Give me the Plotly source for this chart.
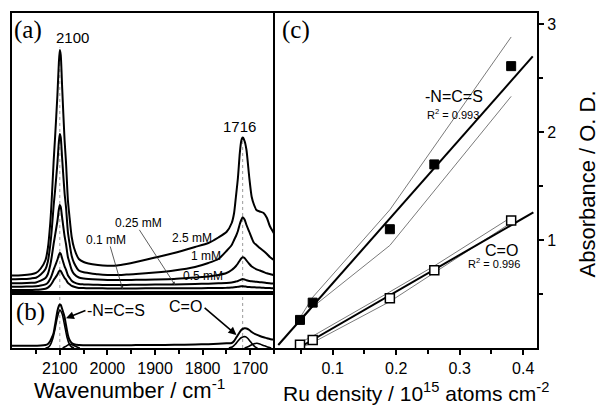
import plotly.graph_objects as go

# ---------------- data: panel (a) / (b) spectra ----------------
wavenumber = [2201, 2180, 2160, 2150, 2140, 2130, 2125, 2120, 2117, 2113, 2110, 2105, 2102, 2100,
              2098, 2095, 2090, 2087, 2083, 2080, 2075, 2070, 2060, 2050, 2040, 2020, 2000, 1980,
              1960, 1940, 1900, 1860, 1816, 1788, 1767, 1750, 1739, 1734, 1730, 1726, 1722, 1719,
              1716, 1712, 1708, 1702, 1697, 1692, 1687, 1680, 1672, 1665, 1659, 1652, 1646]

abs_2p5mM = [0.175, 0.178, 0.188, 0.20, 0.245, 0.33, 0.45, 0.70, 0.93, 1.31, 1.55, 1.98, 2.30, 2.43,
             2.38, 2.05, 1.53, 1.31, 0.93, 0.78, 0.56, 0.45, 0.34, 0.31, 0.295, 0.28, 0.273, 0.275,
             0.29, 0.31, 0.355, 0.40, 0.46, 0.50, 0.555, 0.61, 0.70, 0.80, 0.97, 1.15, 1.40, 1.52,
             1.557, 1.52, 1.43, 1.15, 0.96, 0.88, 0.83, 0.815, 0.80, 0.75, 0.67, 0.61, 0.56]
abs_1mM = [0.137, 0.139, 0.146, 0.153, 0.185, 0.24, 0.315, 0.48, 0.625, 0.87, 1.02, 1.30, 1.51, 1.59,
           1.555, 1.34, 1.00, 0.86, 0.61, 0.51, 0.37, 0.30, 0.225, 0.207, 0.20, 0.187, 0.18, 0.18,
           0.185, 0.19, 0.205, 0.225, 0.26, 0.30, 0.34, 0.42, 0.48, 0.53, 0.57, 0.62, 0.69, 0.73,
           0.757, 0.735, 0.68, 0.61, 0.55, 0.50, 0.48, 0.45, 0.42, 0.39, 0.36, 0.335, 0.315]
abs_0p5mM = [0.097, 0.098, 0.102, 0.106, 0.123, 0.15, 0.19, 0.28, 0.36, 0.49, 0.575, 0.72, 0.835, 0.88,
             0.86, 0.75, 0.57, 0.49, 0.36, 0.31, 0.23, 0.19, 0.155, 0.145, 0.14, 0.134, 0.13, 0.13,
             0.13, 0.132, 0.135, 0.14, 0.155, 0.165, 0.18, 0.20, 0.23, 0.25, 0.27, 0.295, 0.325, 0.345,
             0.357, 0.35, 0.325, 0.29, 0.265, 0.25, 0.237, 0.225, 0.21, 0.197, 0.19, 0.18, 0.173]
abs_0p25mM = [0.063, 0.063, 0.065, 0.067, 0.074, 0.086, 0.104, 0.142, 0.176, 0.233, 0.27, 0.333, 0.38, 0.40,
              0.392, 0.344, 0.267, 0.234, 0.178, 0.156, 0.123, 0.107, 0.09, 0.086, 0.084, 0.082, 0.08, 0.08,
              0.081, 0.082, 0.084, 0.086, 0.09, 0.093, 0.097, 0.10, 0.105, 0.11, 0.115, 0.12, 0.128, 0.135,
              0.14, 0.135, 0.128, 0.12, 0.118, 0.115, 0.112, 0.108, 0.105, 0.10, 0.097, 0.094, 0.09]
abs_0p1mM = [0.03, 0.03, 0.031, 0.032, 0.036, 0.043, 0.054, 0.075, 0.095, 0.128, 0.149, 0.186, 0.214, 0.225,
             0.22, 0.193, 0.15, 0.132, 0.101, 0.09, 0.071, 0.062, 0.051, 0.049, 0.048, 0.047, 0.046, 0.046,
             0.046, 0.046, 0.047, 0.047, 0.048, 0.049, 0.05, 0.052, 0.055, 0.057, 0.059, 0.062, 0.065, 0.067,
             0.068, 0.066, 0.063, 0.06, 0.058, 0.057, 0.056, 0.054, 0.052, 0.05, 0.049, 0.048, 0.047]

spectra_a = [abs_0p1mM, abs_0p25mM, abs_0p5mM, abs_1mM, abs_2p5mM]
conc_labels = ["0.1 mM", "0.25 mM", "0.5 mM", "1 mM", "2.5 mM"]

# panel (b): fitted total and components
fit_total = [0.022, 0.022, 0.022, 0.023, 0.024, 0.03, 0.04, 0.07, 0.10, 0.15, 0.23, 0.37, 0.42, 0.435,
             0.43, 0.39, 0.31, 0.23, 0.13, 0.085, 0.05, 0.038, 0.03, 0.028, 0.027, 0.027, 0.027, 0.028,
             0.028, 0.029, 0.03, 0.032, 0.035, 0.038, 0.042, 0.047, 0.05, 0.07, 0.10, 0.13, 0.16, 0.18,
             0.19, 0.197, 0.195, 0.18, 0.16, 0.145, 0.133, 0.12, 0.107, 0.098, 0.09, 0.084, 0.078]
ncs_comp_wn = [2130, 2125, 2120, 2115, 2110, 2105, 2100, 2095, 2090, 2085, 2080, 2075, 2070]
ncs_comp = [0.0, 0.005, 0.03, 0.09, 0.19, 0.31, 0.38, 0.34, 0.23, 0.11, 0.04, 0.01, 0.0]
minor_comp_wn = [2094, 2088, 2082, 2078, 2072, 2065, 2058]
minor_comp = [0.0, 0.015, 0.033, 0.037, 0.028, 0.012, 0.0]
co_comp_wn = [1745, 1738, 1732, 1726, 1720, 1714, 1710, 1705, 1700, 1695, 1690, 1685]
co_comp = [0.0, 0.01, 0.035, 0.07, 0.10, 0.113, 0.112, 0.095, 0.065, 0.035, 0.012, 0.0]
co_comp2_wn = [1712, 1705, 1698, 1692, 1686, 1680, 1672, 1664, 1656]
co_comp2 = [0.0, 0.012, 0.03, 0.043, 0.047, 0.04, 0.025, 0.01, 0.0]

peak_positions = [2100, 1716]
peak_labels = ["2100", "1716"]

# ---------------- data: panel (c) ----------------
ru_density = [0.0485, 0.0685, 0.19, 0.26, 0.381]
ncs_abs = [0.26, 0.42, 1.10, 1.70, 2.61]
co_abs = [0.03, 0.074, 0.46, 0.72, 1.18]

ncs_fit_x = [0.0143, 0.415]
ncs_fit_y = [0.028, 2.70]
co_fit_x = [0.046, 0.416]
co_fit_y = [0.0, 1.256]

ncs_band_x = [0.0485, 0.0685, 0.19, 0.381]
ncs_upper = [0.28, 0.47, 1.28, 2.88]
ncs_lower = [0.24, 0.38, 0.95, 2.33]
co_band_x = [0.0485, 0.0685, 0.19, 0.26, 0.381]
co_upper = [0.05, 0.11, 0.52, 0.76, 1.21]
co_lower = [0.0, 0.05, 0.43, 0.70, 1.16]

x_ticks_left = [2100, 2000, 1900, 1800, 1700]
x_minor_left = [2150, 2050, 1950, 1850, 1750, 1650]
x_ticks_c = [0.1, 0.2, 0.3, 0.4]
x_minor_c = [0.05, 0.15, 0.25, 0.35]
y_ticks_c = [1, 2, 3]
y_minor_c = [0.5, 1.5, 2.5]

# ---------------- figure ----------------
SANS = "Liberation Sans, Arial, sans-serif"
SERIF = "Liberation Serif, Times New Roman, serif"
fig = go.Figure()

line_k = dict(color="black", width=2, shape="spline", smoothing=0.6)
for vals, lab in zip(spectra_a, conc_labels):
    fig.add_trace(go.Scatter(x=wavenumber, y=vals, mode="lines", line=line_k,
                             xaxis="x2", yaxis="y2", name=lab, showlegend=False))

fig.add_trace(go.Scatter(x=wavenumber, y=fit_total, mode="lines", line=line_k,
                         xaxis="x", yaxis="y", showlegend=False))
for wn, vals in [(ncs_comp_wn, ncs_comp), (minor_comp_wn, minor_comp),
                 (co_comp_wn, co_comp), (co_comp2_wn, co_comp2)]:
    fig.add_trace(go.Scatter(x=wn, y=vals, mode="lines",
                             line=dict(color="black", width=1.6, shape="spline", smoothing=0.6),
                             xaxis="x", yaxis="y", showlegend=False))

# panel (c)
band = dict(color="#7a7a7a", width=1)
for bx, by in [(ncs_band_x, ncs_upper), (ncs_band_x, ncs_lower),
               (co_band_x, co_upper), (co_band_x, co_lower)]:
    fig.add_trace(go.Scatter(x=bx, y=by, mode="lines", line=band,
                             xaxis="x3", yaxis="y3", showlegend=False))
fig.add_trace(go.Scatter(x=ncs_fit_x, y=ncs_fit_y, mode="lines", line=dict(color="black", width=2),
                         xaxis="x3", yaxis="y3", showlegend=False))
fig.add_trace(go.Scatter(x=co_fit_x, y=co_fit_y, mode="lines", line=dict(color="black", width=2),
                         xaxis="x3", yaxis="y3", showlegend=False))
fig.add_trace(go.Scatter(x=ru_density, y=ncs_abs, mode="markers",
                         marker=dict(symbol="square", size=9, color="black",
                                     line=dict(color="black", width=1)),
                         xaxis="x3", yaxis="y3", showlegend=False))
fig.add_trace(go.Scatter(x=ru_density, y=co_abs, mode="markers",
                         marker=dict(symbol="square", size=9, color="white",
                                     line=dict(color="black", width=1.5)),
                         xaxis="x3", yaxis="y3", showlegend=False))

# domains (page margin removed by post_script, figure fills the 599x408 window)
XL = [0.01953, 0.46077]
XC = [0.4591, 0.8965]
YB = [0.14706, 0.28186]
YA = [0.28186, 0.96814]
YA_RANGE = [0, 2.8]

frame = dict(showline=True, linewidth=2, linecolor="black", mirror=True,
             showgrid=False, zeroline=False, automargin=False)
tickfont = dict(family=SANS, size=16, color="black")

fig.update_layout(
    width=599, height=408, margin=dict(l=0, r=0, t=0, b=0, pad=0, autoexpand=False),
    paper_bgcolor="white", plot_bgcolor="white", showlegend=False,
    xaxis=dict(domain=XL, range=[2201, 1646], anchor="y", tickvals=x_ticks_left,
               ticks="outside", ticklen=5, tickwidth=1.5, tickcolor="black", tickfont=tickfont,
               minor=dict(tickvals=x_minor_left, ticks="outside", ticklen=4, tickwidth=1.5,
                          tickcolor="black", showgrid=False),
               **frame),
    yaxis=dict(domain=YB, range=[0, 0.55], anchor="x", showticklabels=False, ticks="", **frame),
    xaxis2=dict(domain=XL, range=[2201, 1646], anchor="y2", matches="x",
                showticklabels=False, ticks="", **frame),
    yaxis2=dict(domain=YA, range=YA_RANGE, anchor="x2", showticklabels=False, ticks="", **frame),
    xaxis3=dict(domain=XC, range=[0.00913, 0.4217], anchor="y3", tickvals=x_ticks_c,
                ticktext=[str(v) for v in x_ticks_c],
                ticks="outside", ticklen=5, tickwidth=1.5, tickcolor="black", tickfont=tickfont,
                minor=dict(tickvals=x_minor_c, ticks="outside", ticklen=4, tickwidth=1.5,
                           tickcolor="black", showgrid=False),
                **frame),
    yaxis3=dict(domain=[YB[0], YA[1]], range=[0, 3.102], anchor="x3", side="right",
                tickvals=y_ticks_c, ticks="outside", ticklen=5, tickwidth=1.5, tickcolor="black",
                tickfont=tickfont,
                minor=dict(tickvals=y_minor_c, ticks="outside", ticklen=4, tickwidth=1.5,
                           tickcolor="black", showgrid=False),
                **frame),
)

# dotted reference lines at the peak positions
peak_label_y = [2.55, 1.663]
for wn, ly in zip(peak_positions, peak_label_y):
    top = YA[0] + (ly - 0.09 - YA_RANGE[0]) / (YA_RANGE[1] - YA_RANGE[0]) * (YA[1] - YA[0])
    fig.add_shape(type="line", xref="x", yref="paper", x0=wn, x1=wn, y0=YB[0], y1=top,
                  line=dict(color="#9a9a9a", width=1, dash="dot"), layer="below")

ann = []
C = dict(xanchor="center", yanchor="middle", showarrow=False)

peak_label_x = [2073.7, 1722.3]
for lx, ly, t in zip(peak_label_x, peak_label_y, peak_labels):
    ann.append(dict(x=lx, y=ly, xref="x2", yref="y2", text=t,
                    font=dict(family=SANS, size=15, color="black"), bgcolor="white", **C))

# concentration labels
conc_pos = {"2.5 mM": (1821.5, 0.547), "1 mM": (1793, 0.37), "0.5 mM": (1799, 0.17),
            "0.25 mM": (1934, 0.703), "0.1 mM": (2003, 0.53)}
for lab, (cx, cy) in conc_pos.items():
    ann.append(dict(x=cx, y=cy, xref="x2", yref="y2", text=lab,
                    font=dict(family=SANS, size=12, color="black"), **C))
# pointer lines for the two lowest curves
ann.append(dict(x=1968, y=0.037, ax=1995, ay=0.48, xref="x2", yref="y2", axref="x2", ayref="y2",
                text="", showarrow=True, arrowhead=2, arrowsize=0.8, arrowwidth=0.8,
                arrowcolor="#333333"))
ann.append(dict(x=1858, y=0.08, ax=1935, ay=0.647, xref="x2", yref="y2", axref="x2", ayref="y2",
                text="", showarrow=True, arrowhead=2, arrowsize=0.8, arrowwidth=0.8,
                arrowcolor="#333333"))

# panel (b) labels
ann.append(dict(x=1982, y=0.38, xref="x", yref="y", text="-N=C=S",
                font=dict(family=SANS, size=16, color="black"), **C))
ann.append(dict(x=2087, y=0.297, ax=2043, ay=0.38, xref="x", yref="y", axref="x", ayref="y",
                text="", showarrow=True, arrowhead=2, arrowsize=1, arrowwidth=1.6,
                arrowcolor="black"))
ann.append(dict(x=1837, y=0.413, xref="x", yref="y", text="C=O",
                font=dict(family=SANS, size=16, color="black"), **C))
ann.append(dict(x=1729, y=0.13, ax=1799, ay=0.413, xref="x", yref="y", axref="x", ayref="y",
                text="", showarrow=True, arrowhead=2, arrowsize=1, arrowwidth=1.6,
                arrowcolor="black"))

# panel (c) labels
ann.append(dict(x=0.291, y=2.327, xref="x3", yref="y3", text="-N=C=S",
                font=dict(family=SANS, size=16, color="black"), **C))
ann.append(dict(x=0.2887, y=2.17, xref="x3", yref="y3", text="R<sup>2</sup> = 0.993",
                font=dict(family=SANS, size=11, color="black"), **C))
ann.append(dict(x=0.366, y=0.90, xref="x3", yref="y3", text="C=O",
                font=dict(family=SANS, size=16, color="black"), **C))
ann.append(dict(x=0.354, y=0.784, xref="x3", yref="y3", text="R<sup>2</sup> = 0.996",
                font=dict(family=SANS, size=11, color="black"), **C))

# panel tags
for t, px, py in [("(a)", 0.0472, 0.9265), ("(b)", 0.0501, 0.236), ("(c)", 0.4942, 0.9265)]:
    ann.append(dict(x=px, y=py, xref="paper", yref="paper", text=t,
                    font=dict(family=SERIF, size=25, color="black"), **C))

# axis titles
ann.append(dict(x=0.217, y=0.0466, xref="paper", yref="paper", text="Wavenumber / cm<sup>-1</sup>",
                font=dict(family=SANS, size=22, color="black"), **C))
ann.append(dict(x=0.6945, y=0.039, xref="paper", yref="paper",
                text="Ru density / 10<sup>15</sup> atoms cm<sup>-2</sup>",
                font=dict(family=SANS, size=21, color="black"), **C))
ann.append(dict(x=0.9816, y=0.5502, xref="paper", yref="paper", text="Absorbance / O. D.",
                textangle=-90, font=dict(family=SANS, size=22, color="black"), **C))

fig.update_layout(annotations=ann)
fig.write_html("out.html", config={"displayModeBar": False},
               post_script="document.body.style.margin='0';document.body.style.overflow='hidden';")
